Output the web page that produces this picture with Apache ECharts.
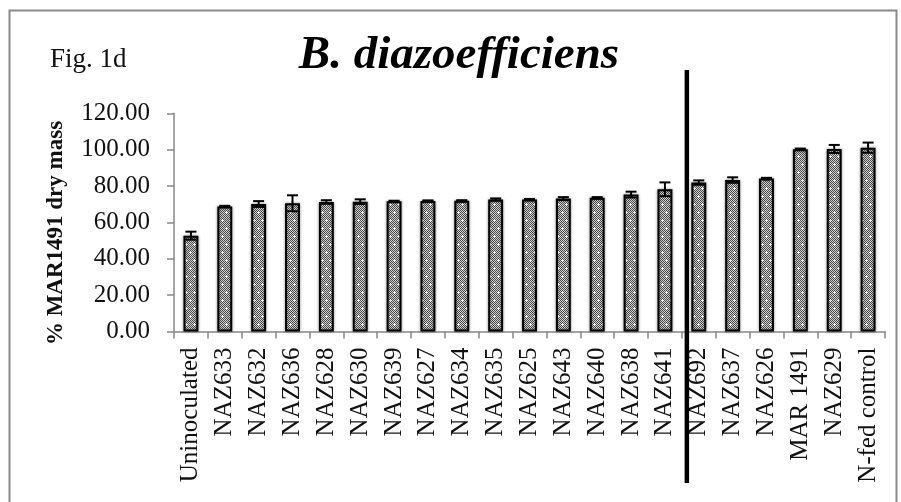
<!DOCTYPE html>
<html>
<head>
<meta charset="utf-8">
<script src="https://cdn.jsdelivr.net/npm/echarts@6/dist/echarts.min.js"></script>
<style>
html,body{margin:0;padding:0;background:#fff;}
#chart{width:901px;height:502px;}
</style>
</head>
<body>
<div id="chart"></div>
<script>
const categories = ["Uninoculated","NAZ633","NAZ632","NAZ636","NAZ628","NAZ630","NAZ639","NAZ627","NAZ634","NAZ635","NAZ625","NAZ643","NAZ640","NAZ638","NAZ641","NAZ692","NAZ637","NAZ626","MAR 1491","NAZ629","N-fed control"];
const values = [52.7,68.8,70.1,70.5,71.2,71.4,71.6,71.8,71.9,72.6,72.6,73.1,73.5,75.3,78.2,81.9,83.3,84.1,100.2,100.4,101.1];
const errors = [2.2,0.3,1.6,4.4,1.0,1.3,0.3,0.3,0.3,0.6,0.3,0.8,0.4,1.6,3.8,1.2,1.5,0.4,0.4,2.2,2.8];
const yTicks = [0,20,40,60,80,100,120];
const titleText = "B. diazoefficiens";
const figLabel = "Fig. 1d";
const yAxisTitle = "% MAR1491 dry mass";
const dividerAfter = "NAZ641";
const dividerBefore = "NAZ692";

// pattern fill
function makePattern(){
  const c = document.createElement('canvas');
  c.width = 8; c.height = 16;
  const ctx = c.getContext('2d');
  for (let y=0;y<16;y++) for (let x=0;x<8;x++){
    ctx.fillStyle = ((x+y)%2===0) ? '#4a4a4a' : '#d2d2d2';
    ctx.fillRect(x,y,1,1);
  }
  ctx.fillStyle = '#ffffff';
  ctx.fillRect(2,3,1,1); ctx.fillRect(1,4,3,1); ctx.fillRect(2,5,1,1);
  ctx.fillRect(6,11,1,1); ctx.fillRect(5,12,3,1); ctx.fillRect(6,13,1,1);
  return c;
}
const pattern = {image: makePattern(), repeat: 'repeat'};

const errData = values.map((v,i)=>[i, v-errors[i], v+errors[i]]);

const serif = 'Liberation Serif';
const chart = echarts.init(document.getElementById('chart'));
chart.setOption({
  animation:false,
  backgroundColor:'#fff',
  grid:{left:174,right:16,top:113.3,bottom:170.5,containLabel:false},
  xAxis:{
    type:'category',
    data:categories,
    axisLine:{lineStyle:{color:'#888',width:1.5}},
    axisTick:{show:true,alignWithLabel:false,length:7,lineStyle:{color:'#888',width:1.5}},
    axisLabel:{interval:0,rotate:90,margin:16,fontFamily:serif,fontSize:25,color:'#111'}
  },
  yAxis:{
    type:'value',min:0,max:120,interval:20,
    splitLine:{show:false},
    axisLine:{show:true,lineStyle:{color:'#888',width:1.5}},
    axisTick:{show:true,length:7,inside:false,lineStyle:{color:'#888',width:1.5}},
    axisLabel:{formatter:v=>v.toFixed(2),margin:24,fontFamily:serif,fontSize:25,color:'#111'}
  },
  series:[
    {type:'bar',data:values,barWidth:'44%',
     itemStyle:{color:pattern,borderColor:'#000',borderWidth:2,shadowBlur:3,shadowColor:'rgba(0,0,0,0.4)'}},
    {type:'custom',data:errData,z:10,
     renderItem:function(params,api){
       const top = api.coord([api.value(0),api.value(2)]);
       const bot = api.coord([api.value(0),api.value(1)]);
       const hw = 5.5;
       const st = {stroke:'#000',lineWidth:2};
       return {type:'group',children:[
         {type:'line',shape:{x1:top[0],y1:top[1],x2:bot[0],y2:bot[1]},style:st},
         {type:'line',shape:{x1:top[0]-hw,y1:top[1],x2:top[0]+hw,y2:top[1]},style:st},
         {type:'line',shape:{x1:bot[0]-hw,y1:bot[1],x2:bot[0]+hw,y2:bot[1]},style:st}
       ]};
     }}
  ]
});
const xa = chart.convertToPixel({xAxisIndex:0}, dividerAfter);
const xb = chart.convertToPixel({xAxisIndex:0}, dividerBefore);
const lineX = (xa+xb)/2 + 5;
chart.setOption({graphic:[
  {type:'rect',shape:{x:9.5,y:10.5,width:887,height:520},style:{fill:'none',stroke:'#8a8a8a',lineWidth:2},z:0,silent:true},
  {type:'text',x:50,y:73,style:{text:figLabel,font:'27px "Liberation Serif"',fill:'#111',textVerticalAlign:'bottom'}},
  {type:'text',x:459,y:56,style:{text:titleText,font:'italic bold 47px "Liberation Serif"',fill:'#000',textAlign:'center',textVerticalAlign:'middle'}},
  {type:'text',x:56,y:233,rotation:Math.PI/2,style:{text:yAxisTitle,font:'bold 23px "Liberation Serif"',fill:'#111',textAlign:'center',textVerticalAlign:'middle'}},
  {type:'line',shape:{x1:lineX,y1:70,x2:lineX,y2:483},style:{stroke:'#000',lineWidth:4.5},z:100}
]});
</script>
</body>
</html>
